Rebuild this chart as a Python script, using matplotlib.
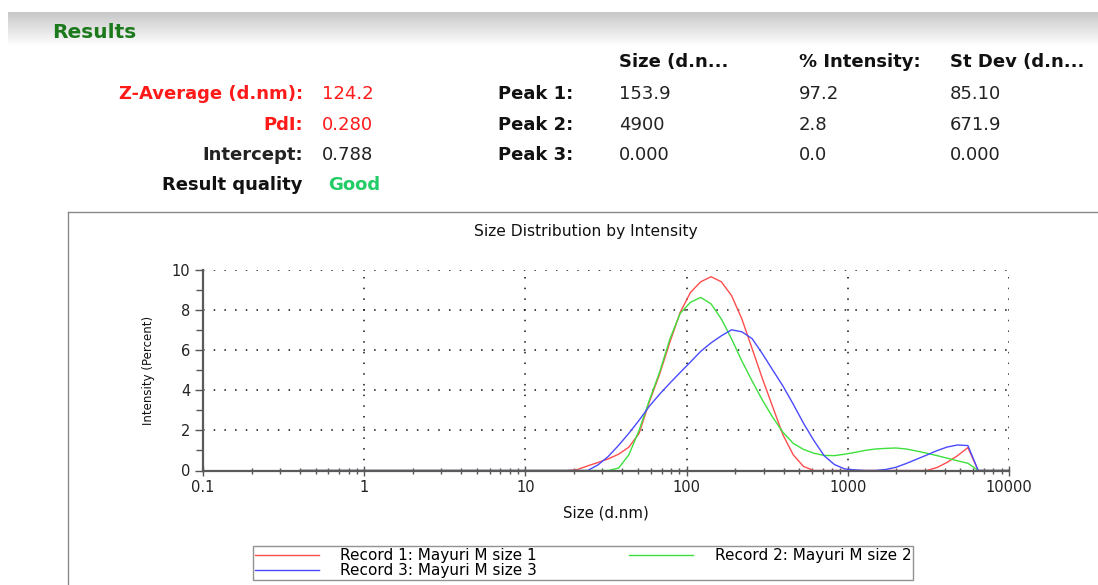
#!/usr/bin/env python3
import matplotlib
matplotlib.use('Agg')
import matplotlib.pyplot as plt
import numpy as np
from matplotlib.lines import Line2D
from matplotlib.ticker import FixedLocator, FixedFormatter, LogLocator, MultipleLocator, NullFormatter

W, H = 1098, 585

# size classes (d.nm)
sizes = [0.4, 0.4632, 0.5365, 0.6213, 0.7195, 0.8332, 0.9649, 1.117, 1.294, 1.499,
         1.736, 2.01, 2.328, 2.696, 3.122, 3.615, 4.187, 4.849, 5.615, 6.503,
         7.531, 8.721, 10.1, 11.7, 13.54, 15.69, 18.17, 21.04, 24.36, 28.21,
         32.67, 37.84, 43.82, 50.75, 58.77, 68.06, 78.82, 91.28, 105.7, 122.4,
         141.8, 164.2, 190.1, 220.2, 255.0, 295.3, 342.0, 396.1, 458.7, 531.2,
         615.1, 712.4, 825.0, 955.4, 1106, 1281, 1484, 1718, 1990, 2305,
         2669, 3091, 3580, 4145, 4801, 5560, 6439, 7456, 8635, 10000]

record1 = [0, 0, 0, 0, 0, 0, 0, 0, 0, 0,
           0, 0, 0, 0, 0, 0, 0, 0, 0, 0,
           0, 0, 0, 0, 0, 0, 0, 0.05, 0.23, 0.4,
           0.58, 0.81, 1.16, 1.85, 3.42, 4.8, 6.39, 7.87, 8.86, 9.39,
           9.64, 9.39, 8.7, 7.54, 6.06, 4.57, 3.17, 1.77, 0.78, 0.2,
           0, 0, 0, 0, 0, 0, 0, 0, 0, 0,
           0, 0, 0.15, 0.41, 0.74, 1.14, 0, 0, 0, 0]

record2 = [0, 0, 0, 0, 0, 0, 0, 0, 0, 0,
           0, 0, 0, 0, 0, 0, 0, 0, 0, 0,
           0, 0, 0, 0, 0, 0, 0, 0, 0, 0,
           0, 0.12, 0.78, 2.0, 3.5, 4.9, 6.55, 7.82, 8.37, 8.61,
           8.29, 7.54, 6.55, 5.45, 4.45, 3.5, 2.65, 1.9, 1.35, 1.05,
           0.86, 0.75, 0.74, 0.81, 0.9, 1.0, 1.07, 1.1, 1.12, 1.07,
           0.97, 0.86, 0.74, 0.61, 0.48, 0.36, 0, 0, 0, 0]

record3 = [0, 0, 0, 0, 0, 0, 0, 0, 0, 0,
           0, 0, 0, 0, 0, 0, 0, 0, 0, 0,
           0, 0, 0, 0, 0, 0, 0, 0, 0, 0.28,
           0.7, 1.25, 1.85, 2.5, 3.2, 3.8, 4.35, 4.88, 5.4, 5.93,
           6.35, 6.7, 7.0, 6.9, 6.56, 5.81, 5.0, 4.2, 3.3, 2.35,
           1.5, 0.74, 0.3, 0.08, 0.03, 0, 0, 0.05, 0.16, 0.35,
           0.56, 0.77, 0.99, 1.17, 1.27, 1.24, 0, 0, 0, 0]

record_names = ['Record 1: Mayuri M size 1', 'Record 2: Mayuri M size 2',
                'Record 3: Mayuri M size 3']
record_colors = ['#ff4d4d', '#3ee03e', '#4a4aff']

x_ticks = [0.1, 1, 10, 100, 1000, 10000]
x_tick_labels = ['0.1', '1', '10', '100', '1000', '10000']
y_ticks = [0, 2, 4, 6, 8, 10]

# results table
summary_labels = ['Z-Average (d.nm):', 'PdI:', 'Intercept:']
summary_values = ['124.2', '0.280', '0.788']
summary_colors = ['#ff1a1a', '#ff1a1a', '#222222']
peak_labels = ['Peak 1:', 'Peak 2:', 'Peak 3:']
peak_headers = ['Size (d.n...', '% Intensity:', 'St Dev (d.n...']
peak_sizes = ['153.9', '4900', '0.000']
peak_intensity = ['97.2', '2.8', '0.0']
peak_stdev = ['85.10', '671.9', '0.000']


def ftext(fig, x, y, s, **kw):
    # place text by pixel position (from top-left)
    kw.setdefault('va', 'center')
    fig.text(x / W, 1 - y / H, s, **kw)


def main():
    plt.rcParams['font.family'] = ['DejaVu Sans']
    fig = plt.figure(figsize=(W / 100, H / 100), dpi=100)

    # grey header band
    band = fig.add_axes([8 / W, 1 - 46 / H, 1 - 8 / W, 34 / H])
    grad = np.linspace(0.78, 1.0, 64).reshape(-1, 1)
    band.imshow(grad, cmap='gray', vmin=0, vmax=1, aspect='auto')
    band.axis('off')

    ftext(fig, 52, 33, 'Results', color='#1c7a1c', fontsize=14.5, fontweight='bold')

    rows_y = [94, 125, 155]
    for lab, val, col, y in zip(summary_labels, summary_values, summary_colors, rows_y):
        ftext(fig, 303, y, lab, color=col, fontsize=13, fontweight='bold', ha='right')
        ftext(fig, 322, y, val, color=col, fontsize=13)
    ftext(fig, 303, 185, 'Result quality', color='#111111', fontsize=13,
          fontweight='bold', ha='right')
    ftext(fig, 328, 185, 'Good', color='#22cc66', fontsize=13, fontweight='bold')

    for x, hd in zip([619, 799, 950], peak_headers):
        ftext(fig, x, 62, hd, color='#111111', fontsize=13, fontweight='bold')
    for i, y in enumerate(rows_y):
        ftext(fig, 573, y, peak_labels[i], color='#111111', fontsize=13,
              fontweight='bold', ha='right')
        ftext(fig, 619, y, peak_sizes[i], color='#222222', fontsize=13)
        ftext(fig, 799, y, peak_intensity[i], color='#222222', fontsize=13)
        ftext(fig, 950, y, peak_stdev[i], color='#222222', fontsize=13)

    # chart panel frame
    fig.add_artist(Line2D([68 / W, 68 / W], [1 - 212 / H, 0], transform=fig.transFigure,
                          color='#8a8a8a', lw=1))
    fig.add_artist(Line2D([68 / W, 1], [1 - 212 / H, 1 - 212 / H], transform=fig.transFigure,
                          color='#8a8a8a', lw=1))
    ftext(fig, 586, 232, 'Size Distribution by Intensity', color='#111111',
          fontsize=11.2, ha='center')

    ax = fig.add_axes([203 / W, 1 - 470.5 / H, (1009 - 203) / W, 201 / H])
    series = [record1, record2, record3]
    for vals, name, col in zip(series, record_names, record_colors):
        ax.plot(sizes, vals, color=col, lw=1.0, label=name)

    ax.set_xscale('log')
    ax.set_xlim(0.1, 10000)
    ax.set_ylim(0, 10)
    ax.xaxis.set_major_locator(FixedLocator(x_ticks))
    ax.xaxis.set_major_formatter(FixedFormatter(x_tick_labels))
    ax.xaxis.set_minor_locator(LogLocator(base=10, subs=np.arange(2, 10)))
    ax.xaxis.set_minor_formatter(NullFormatter())
    ax.set_yticks(y_ticks)
    ax.yaxis.set_minor_locator(MultipleLocator(1))

    for side in ['top', 'right']:
        ax.spines[side].set_visible(False)
    for side in ['left', 'bottom']:
        ax.spines[side].set_color('#5a5a5a')
        ax.spines[side].set_linewidth(1.6)

    ax.tick_params(axis='x', which='major', direction='inout', length=7, width=1,
                   color='#555555', labelsize=10.5, labelcolor='#222222', pad=3)
    ax.tick_params(axis='x', which='minor', direction='inout', length=5, width=1,
                   color='#555555')
    ax.tick_params(axis='y', which='major', direction='out', length=6, width=1,
                   color='#555555', labelsize=10.5, labelcolor='#222222', pad=3)
    ax.tick_params(axis='y', which='minor', direction='out', length=5, width=1,
                   color='#555555')
    ax.grid(True, which='major', color='#111111', linestyle=(0, (1, 6)), lw=1.1)

    ax.set_xlabel('Size (d.nm)', fontsize=10.8, color='#111111', labelpad=8)
    ax.set_ylabel('Intensity (Percent)', fontsize=8.5, color='#111111', labelpad=12)

    handles, labels = ax.get_legend_handles_labels()
    order = [0, 2, 1]
    leg = fig.legend([handles[i] for i in order], [labels[i] for i in order],
                     loc='lower left', ncol=2, mode='expand',
                     bbox_to_anchor=(253 / W, 5 / H, (913 - 253) / W, 34 / H),
                     fontsize=11, frameon=True, fancybox=False, handlelength=4.2,
                     handletextpad=1.4, labelspacing=0.0, borderpad=0.12,
                     borderaxespad=0, columnspacing=1.0)
    leg.get_frame().set_edgecolor('#777777')
    leg.get_frame().set_linewidth(1.0)

    plt.savefig('out.png', dpi=100)


if __name__ == "__main__":
    main()
